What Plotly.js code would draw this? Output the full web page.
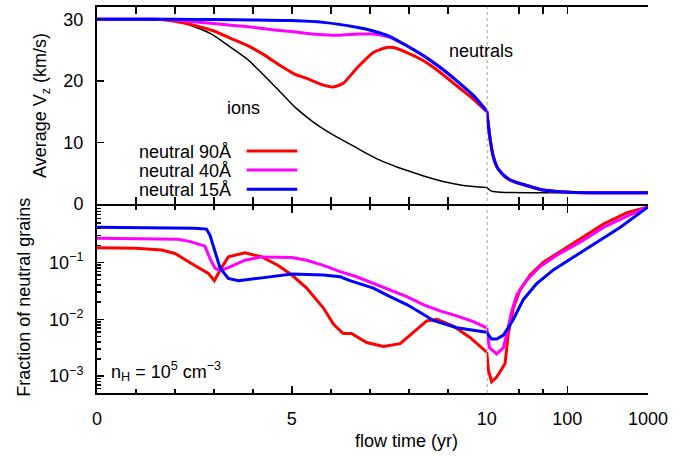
<!DOCTYPE html>
<html><head><meta charset="utf-8">
<script src="https://cdn.plot.ly/plotly-3.0.1.min.js"></script>
<style>html,body{margin:0;padding:0;background:#fff}#chart{width:693px;height:456px}</style>
</head><body><div id="chart"></div>
<script>
// ---- Top panel: average Vz (km/s) vs flow time (yr) ----
const tIons = [0, 1.5, 2.0, 2.5, 2.94, 3.4, 3.84, 4.27, 4.7, 5.1, 5.55, 5.98, 6.41, 6.83, 7.26, 7.69, 8.11, 8.55, 8.97, 9.4, 9.8, 10, 11, 12, 15, 20, 50, 1000];
const vIons = [30, 30, 29.8, 28.8, 27.6, 25.6, 23.6, 21.0, 18.2, 15.6, 13.3, 11.5, 10.0, 8.5, 7.1, 6.0, 5.1, 4.2, 3.5, 3.0, 2.75, 2.65, 2.2, 2.0, 1.9, 1.85, 1.8, 1.8];

const tV90 = [0, 1.5, 2.0, 2.5, 3.0, 3.4, 3.84, 4.27, 4.7, 5.1, 5.38, 5.81, 6.07, 6.32, 6.66, 7.09, 7.43, 7.6, 7.95, 8.37, 8.8, 9.23, 9.66, 10, 11, 12, 13, 14, 17, 21, 31, 46, 74, 120, 1000];
const vV90 = [30, 30, 29.7, 29.0, 28.1, 27.0, 25.8, 24.3, 22.5, 21.0, 20.4, 19.3, 19.0, 19.6, 22.0, 24.6, 25.4, 25.4, 24.6, 23.3, 21.4, 19.2, 17.0, 15.0, 10.6, 7.8, 6.4, 5.6, 4.4, 3.7, 3.0, 2.35, 2.0, 1.85, 1.8];

const tV40 = [0, 1.5, 2, 2.5, 3, 3.5, 4, 4.5, 5, 5.4, 5.8, 6.2, 6.7, 7.1, 7.5, 7.95, 8.37, 8.8, 9.23, 9.66, 10, 11, 12, 13, 14, 17, 21, 31, 46, 74, 120, 1000];
const vV40 = [30, 30, 29.9, 29.6, 29.3, 29.0, 28.7, 28.3, 28.0, 27.7, 27.5, 27.4, 27.6, 27.6, 27.1, 25.7, 24.1, 22.2, 20.0, 17.6, 15.1, 10.6, 7.8, 6.4, 5.6, 4.4, 3.7, 3.0, 2.35, 2.0, 1.85, 1.8];

const tV15 = [0, 2, 3, 4, 5, 5.81, 6.66, 7.09, 7.52, 7.95, 8.37, 8.8, 9.23, 9.66, 10, 11, 12, 13, 14, 17, 21, 31, 46, 74, 120, 1000];
const vV15 = [30, 30, 29.95, 29.9, 29.8, 29.5, 28.7, 28.1, 27.2, 25.7, 24.1, 22.2, 20.0, 17.6, 15.1, 10.6, 7.8, 6.4, 5.6, 4.4, 3.7, 3.0, 2.35, 2.0, 1.85, 1.8];

// ---- Bottom panel: fraction of neutral grains ----
const tF90 = [0, 1.0, 1.66, 2.0, 2.51, 2.86, 3.01, 3.16, 3.37, 3.8, 4.23, 4.65, 5.0, 5.38, 5.81, 6.07, 6.32, 6.53, 6.92, 7.35, 7.78, 8.11, 8.46, 8.72, 9.14, 9.57, 9.91, 10, 10.5, 11.5, 13.3, 16.9, 18.5, 21.4, 25.9, 34.5, 50.5, 81, 144, 280, 550, 1000];
const fF90 = [0.182, 0.178, 0.166, 0.145, 0.0891, 0.0646, 0.0479, 0.0741, 0.126, 0.148, 0.126, 0.0891, 0.0603, 0.0355, 0.0158, 0.00813, 0.00562, 0.00562, 0.00389, 0.00331, 0.00372, 0.00589, 0.00933, 0.01, 0.00759, 0.00479, 0.00302, 0.00263, 0.00126, 0.000794, 0.000955, 0.00166, 0.0055, 0.0158, 0.0331, 0.0603, 0.102, 0.155, 0.263, 0.479, 0.759, 0.955];

const tF40 = [0, 2.08, 2.4, 2.77, 2.9, 3.03, 3.16, 3.37, 3.8, 4.23, 5.0, 5.38, 5.81, 6.24, 6.66, 7.09, 7.52, 7.95, 8.37, 8.8, 9.23, 9.66, 10, 10.8, 13.3, 16.1, 17.7, 20.4, 23.6, 31.4, 45.9, 74, 144, 280, 550, 1000];
const fF40 = [0.269, 0.257, 0.234, 0.195, 0.117, 0.0794, 0.0724, 0.0813, 0.110, 0.126, 0.123, 0.110, 0.0891, 0.0692, 0.0562, 0.0427, 0.0331, 0.0251, 0.0182, 0.0141, 0.0115, 0.00912, 0.00708, 0.00316, 0.00245, 0.00316, 0.0055, 0.0138, 0.0269, 0.049, 0.0851, 0.135, 0.229, 0.417, 0.661, 0.955];

const tF15 = [0, 2.5, 2.81, 2.9, 3.03, 3.16, 3.37, 3.63, 4.23, 5.0, 5.81, 6.24, 6.49, 7.09, 7.52, 7.95, 8.37, 8.63, 9.23, 10, 11.5, 13.3, 16.1, 18.5, 21.4, 28.5, 41.7, 67, 119, 232, 450, 1000];
const fF15 = [0.418, 0.403, 0.389, 0.302, 0.155, 0.0794, 0.0525, 0.0479, 0.0537, 0.0631, 0.0603, 0.0562, 0.0479, 0.0355, 0.0251, 0.0182, 0.0123, 0.00955, 0.00708, 0.00589, 0.00447, 0.00447, 0.00525, 0.00708, 0.01, 0.0224, 0.0427, 0.0741, 0.126, 0.229, 0.417, 0.955];

const seriesNames = ['neutral 90Å', 'neutral 40Å', 'neutral 15Å'];
const xTickVals = [0, 5];
const xLogTickVals = [10, 100, 1000];
const vTickVals = [0, 10, 20, 30];
const fTickVals = [0.001, 0.01, 0.1];
const fTickText = ['10<sup>−3</sup>', '10<sup>−2</sup>', '10<sup>−1</sup>'];

// ---- styling ----
const FONT = 'Liberation Sans, Arial, Helvetica, sans-serif';
const COLORS = ['#ff0000', '#ff00ff', '#0000ff'];

function split(t, v) {
  const a = {x: [], y: []}, b = {x: [], y: []};
  t.forEach((ti, i) => {
    if (ti <= 10) { a.x.push(ti); a.y.push(v[i]); }
    if (ti >= 10) { b.x.push(ti); b.y.push(v[i]); }
  });
  return [a, b];
}

const traces = [];
function addSeries(t, v, yax, color, width, name, shape) {
  const [lin, lg] = split(t, v);
  traces.push({x: lin.x, y: lin.y, xaxis: 'x', yaxis: yax, mode: 'lines', name: name, showlegend: false,
    line: {color: color, width: width, shape: shape, smoothing: 0.5}, hoverinfo: 'skip'});
  traces.push({x: lg.x, y: lg.y, xaxis: 'x2', yaxis: yax, mode: 'lines', name: name, showlegend: false,
    line: {color: color, width: width, shape: shape, smoothing: 0.5}, hoverinfo: 'skip'});
}
addSeries(tIons, vIons, 'y', '#000000', 1.5, 'ions', 'spline');
addSeries(tV90, vV90, 'y', COLORS[0], 3, seriesNames[0], 'spline');
addSeries(tV40, vV40, 'y', COLORS[1], 3, seriesNames[1], 'spline');
addSeries(tV15, vV15, 'y', COLORS[2], 3, seriesNames[2], 'spline');
addSeries(tF90, fF90, 'y2', COLORS[0], 3, seriesNames[0], 'linear');
addSeries(tF40, fF40, 'y2', COLORS[1], 3, seriesNames[1], 'linear');
addSeries(tF15, fF15, 'y2', COLORS[2], 3, seriesNames[2], 'linear');

const minorLog = [];
for (let e = -4; e <= -1; e++) for (let k = 2; k <= 9; k++) {
  const val = k * Math.pow(10, e);
  if (val > 5e-4 && val < 1) minorLog.push(val);
}

const D = 0.7073, Y = 0.4874, PX = 1 / 386;
const base = {showline: true, linewidth: 2, linecolor: '#000', ticks: 'inside', ticklen: 7, tickwidth: 1.5,
  tickcolor: '#000', showgrid: false, zeroline: false, tickfont: {family: FONT, size: 18, color: '#000'},
  ticklabelstandoff: 8};
const minorBase = {ticks: 'inside', ticklen: 4, tickwidth: 1.5, tickcolor: '#000', showgrid: false, tickmode: 'array'};

const tf = {family: FONT, size: 18, color: '#000'};
const legendY = [0.6272, 0.578, 0.5281];
const annotations = [
  {xref: 'paper', yref: 'paper', x: -0.0998, y: 0.7437, text: 'Average V<sub>z</sub> (km/s)', textangle: -90, showarrow: false, font: tf, xanchor: 'center', yanchor: 'middle'},
  {xref: 'paper', yref: 'paper', x: -0.1325, y: 0.2493, text: 'Fraction of neutral grains', textangle: -90, showarrow: false, font: tf, xanchor: 'center', yanchor: 'middle'},
  {xref: 'paper', yref: 'paper', x: 0.5613, y: -0.1253, text: 'flow time (yr)', showarrow: false, font: tf, xanchor: 'center', yanchor: 'middle'},
  {xref: 'paper', yref: 'paper', x: 0.265, y: 0.7385, text: 'ions', showarrow: false, font: tf, xanchor: 'center', yanchor: 'middle'},
  {xref: 'paper', yref: 'paper', x: 0.697, y: 0.8848, text: 'neutrals', showarrow: false, font: tf, xanchor: 'center', yanchor: 'middle'},
  {xref: 'paper', yref: 'paper', x: 0.0218, y: 0.0551, text: 'n<sub>H</sub> = 10<sup>5</sup> cm<sup>−3</sup>', showarrow: false, font: tf, xanchor: 'left', yanchor: 'middle'}
];
const shapes = [
  {type: 'line', xref: 'x2', yref: 'paper', x0: 10, x1: 10, y0: 0, y1: 1, line: {color: '#808080', width: 1.5, dash: 'dot'}, layer: 'below'}
];
seriesNames.forEach((n, i) => {
  annotations.push({xref: 'paper', yref: 'paper', x: 0.2474, y: legendY[i] - 0.002, text: n, showarrow: false, font: tf, xanchor: 'right', yanchor: 'middle'});
  shapes.push({type: 'line', xref: 'paper', yref: 'paper', x0: 0.2717, x1: 0.3635, y0: legendY[i], y1: legendY[i], line: {color: COLORS[i], width: 3}});
});

const layout = {
  width: 693, height: 456,
  margin: {l: 97, r: 45, t: 7, b: 63},
  paper_bgcolor: '#fff', plot_bgcolor: 'rgba(0,0,0,0)',
  showlegend: false,
  font: {family: FONT, size: 18, color: '#000'},
  xaxis: Object.assign({}, base, {domain: [0, D], range: [0, 10], anchor: 'y2', tickmode: 'array', tickvals: xTickVals,
    ticktext: xTickVals.map(String), mirror: 'allticks', minor: Object.assign({}, minorBase, {tickvals: [1, 2, 3, 4, 6, 7, 8, 9]})}),
  xaxis2: Object.assign({}, base, {type: 'log', domain: [D, 1], range: [1, 3], anchor: 'y2', tickmode: 'array', tickvals: xLogTickVals,
    ticktext: xLogTickVals.map(String), mirror: 'allticks', minor: Object.assign({}, minorBase, {tickvals: [25, 50]})}),
  yaxis: Object.assign({}, base, {domain: [Y + PX, 1], range: [0, 32], anchor: 'x', tickmode: 'array', tickvals: vTickVals, ticktext: vTickVals.map(String)}),
  yaxis2: Object.assign({}, base, {type: 'log', domain: [0, Y - PX], range: [-3.3, 0], anchor: 'x', tickmode: 'array', tickvals: fTickVals,
    ticktext: fTickText, minor: Object.assign({}, minorBase, {tickvals: minorLog})}),
  yaxis3: Object.assign({}, base, {overlaying: 'y', side: 'right', anchor: 'x2', range: [0, 32], tickmode: 'array', tickvals: vTickVals, showticklabels: false}),
  yaxis4: Object.assign({}, base, {type: 'log', overlaying: 'y2', side: 'right', anchor: 'x2', range: [-3.3, 0], tickmode: 'array',
    tickvals: fTickVals, showticklabels: false, minor: Object.assign({}, minorBase, {tickvals: minorLog})}),
  annotations: annotations,
  shapes: shapes
};

Plotly.newPlot('chart', traces, layout, {staticPlot: true, displayModeBar: false});
</script></body></html>
